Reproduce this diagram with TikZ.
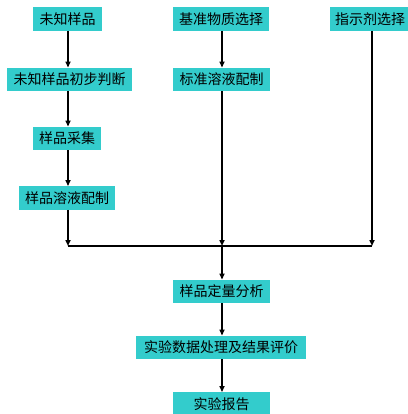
\documentclass[tikz,border=0pt]{standalone}
\usepackage{fontspec}
\newfontfamily\cjk{Noto Sans CJK SC}
\usetikzlibrary{arrows.meta}
\definecolor{boxfill}{HTML}{33CCCC}
\begin{document}
\begin{tikzpicture}[x=1pt,y=-1pt,
  stepbox/.style={fill=boxfill,draw=none,minimum height=23.5pt,inner sep=0pt,
    font=\cjk\fontsize{14}{15}\selectfont,text=black},
  flow/.style={line width=1.8pt,-{Triangle[length=6pt,width=5pt]}},
  plain/.style={line width=1.8pt}]
\useasboundingbox (0,0) rectangle (407,414);
\fill[white] (0,0) rectangle (407,414);
% left column
\node[stepbox,minimum width=69pt] (a1) at (67.5,19) {未知样品};
\node[stepbox,minimum width=125pt] (a2) at (69.5,79.5) {未知样品初步判断};
\node[stepbox,minimum width=68pt] (a3) at (67,138.5) {样品采集};
\node[stepbox,minimum width=96pt] (a4) at (67,198) {样品溶液配制};
% middle column
\node[stepbox,minimum width=96pt] (b1) at (221,19) {基准物质选择};
\node[stepbox,minimum width=97pt] (b2) at (221.5,79.5) {标准溶液配制};
% right column
\node[stepbox,minimum width=84pt,text width=84pt,align=left] (c1) at (372,19) {\hspace{5pt}指示剂选择};
% lower chain
\node[stepbox,minimum width=97pt] (d1) at (221.5,291.5) {样品定量分析};
\node[stepbox,minimum width=170pt] (d2) at (221,347.5) {实验数据处理及结果评价};
\node[stepbox,minimum width=97pt] (d3) at (221.5,404) {实验报告};
% junction line
\coordinate (jl) at (68,246);
\coordinate (jm) at (222,246);
\coordinate (jr) at (372,246);
\draw[plain] (jl) -- (jr);
\draw[flow] (a1.south -| jl) -- (a2.north -| jl);
\draw[flow] (a2.south -| jl) -- (a3.north -| jl);
\draw[flow] (a3.south -| jl) -- (a4.north -| jl);
\draw[flow] (a4.south -| jl) -- (jl);
\draw[flow] (b1.south -| jm) -- (b2.north -| jm);
\draw[flow] (b2.south -| jm) -- (jm);
\draw[flow] (c1.south -| jr) -- (jr);
\draw[flow] (jm) -- (d1.north -| jm);
\draw[flow] (d1.south -| jm) -- (d2.north -| jm);
\draw[flow] (d2.south -| jm) -- (d3.north -| jm);
\end{tikzpicture}
\end{document}
